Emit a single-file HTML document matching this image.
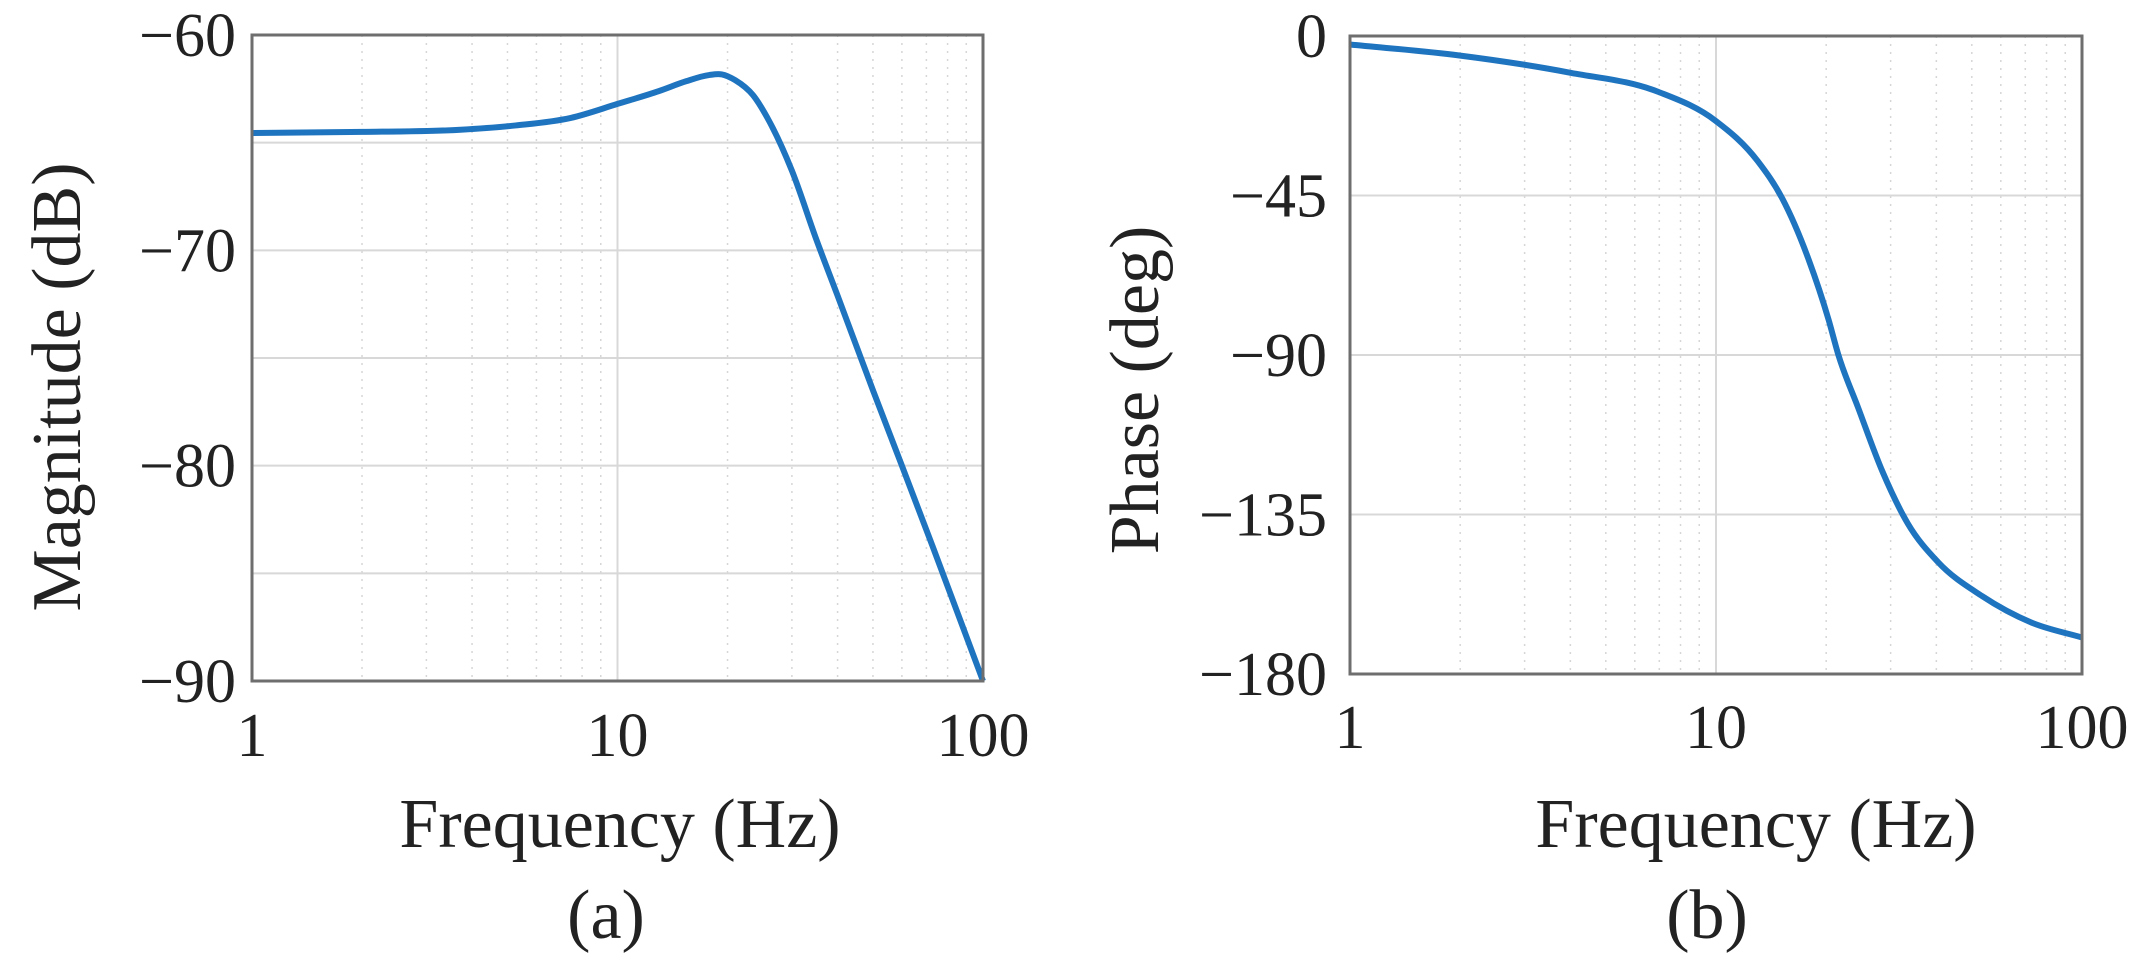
<!DOCTYPE html>
<html><head><meta charset="utf-8"><style>
html,body{margin:0;padding:0;background:#fff;}
svg{display:block;font-family:"Liberation Serif",serif;}
</style></head><body>
<svg id="chart" width="2148" height="958" viewBox="0 0 2148 958"></svg>
<script>
const magFreq=[1,2,3.72,5.27,7.45,10,13,15.4,17.8,19.3,21,23.5,26,30,35,40,50,60,73,100];
const magVals=[-64.55,-64.5,-64.4,-64.2,-63.85,-63.2,-62.6,-62.15,-61.86,-61.83,-62.1,-62.8,-64,-66.3,-69.5,-72.1,-76.5,-80,-83.8,-90];
const phFreq=[1,1.99,3.97,6.97,10,13,15.2,17.9,20.3,21.6,24.4,28.5,33.4,40.4,53.3,72.8,100];
const phVals=[-2.4,-5.5,-10.3,-15.8,-24,-35.3,-46,-63,-80,-90,-104.6,-122.9,-137.5,-148.4,-158,-165.5,-169.7];
const xTicks=[1,10,100];
const magTicks=[-60,-70,-80,-90];
const phTicks=[0,-45,-90,-135,-180];

const NS="http://www.w3.org/2000/svg";
const svg=document.getElementById('chart');
function mk(tag,attrs,parent){const e=document.createElementNS(NS,tag);for(const k in attrs)e.setAttribute(k,attrs[k]);(parent||svg).appendChild(e);return e;}

function smoothPath(P){
  const n=P.length,m=[];
  for(let i=0;i<n;i++){
    if(i===0)m.push((P[1][1]-P[0][1])/(P[1][0]-P[0][0]));
    else if(i===n-1)m.push((P[n-1][1]-P[n-2][1])/(P[n-1][0]-P[n-2][0]));
    else{
      const h0=P[i][0]-P[i-1][0],h1=P[i+1][0]-P[i][0];
      const s0=(P[i][1]-P[i-1][1])/h0,s1=(P[i+1][1]-P[i][1])/h1;
      m.push((s0*h1+s1*h0)/(h0+h1));
    }
  }
  let d='M'+P[0][0].toFixed(2)+','+P[0][1].toFixed(2);
  for(let i=0;i<n-1;i++){
    const h=(P[i+1][0]-P[i][0])/3;
    d+=' C'+(P[i][0]+h).toFixed(2)+','+(P[i][1]+m[i]*h).toFixed(2)+' '+(P[i+1][0]-h).toFixed(2)+','+(P[i+1][1]-m[i+1]*h).toFixed(2)+' '+P[i+1][0].toFixed(2)+','+P[i+1][1].toFixed(2);
  }
  return d;
}

function panel(cfg){
  const g=mk('g',{});
  
  
  const L=cfg.L,R=cfg.R,T=cfg.T,B=cfg.B;
  const xs=f=>L+Math.log10(f)/2*(R-L);
  const ys=v=>T+(cfg.ymax-v)/(cfg.ymax-cfg.ymin)*(B-T);
  for(let d=1;d<100;d*=10)for(let m=2;m<=9;m++){
    const l=mk('line',{x1:xs(d*m),x2:xs(d*m),y1:T,y2:B,stroke:'#d6d6d6','stroke-width':1.5,'stroke-dasharray':'2 6'},g);
    
    
  }
  const gx=mk('line',{x1:xs(10),x2:xs(10),y1:T,y2:B,stroke:'#d8d8d8','stroke-width':2},g);
  
  
  for(const v of cfg.ygrid){
    const l=mk('line',{x1:L,x2:R,y1:ys(v),y2:ys(v),stroke:'#d8d8d8','stroke-width':2},g);
    
    
  }
  const P=cfg.fx.map((f,i)=>[xs(f),ys(cfg.vals[i])]);
  const c=mk('path',{d:smoothPath(P),fill:'none',stroke:'#1f74c0','stroke-width':6,'stroke-linejoin':'round'},g);
  
  
  const fr=mk('rect',{x:L,y:T,width:R-L,height:B-T,fill:'none',stroke:'#6e6e6e','stroke-width':3},g);
  
  
  for(const f of xTicks){
    const t=mk('text',{x:xs(f),y:cfg.xtickY,'text-anchor':'middle','font-size':62,fill:'#222'},g);
    t.textContent=String(f);
    
    
  }
  for(const v of cfg.yticks){
    const t=mk('text',{x:cfg.ylabX,y:ys(v)+21,'text-anchor':'end','font-size':62,fill:'#222'},g);
    t.textContent=v<0?'\u2212'+Math.abs(v):String(v);
    
    
  }
  const xt=mk('text',{x:cfg.xTitleX,y:847,'text-anchor':'middle','font-size':70,fill:'#222'},g);
  xt.textContent='Frequency (Hz)';
  
  
  const yt=mk('text',{x:0,y:0,'text-anchor':'middle','font-size':70,fill:'#222',transform:`translate(${cfg.yTitleX},${cfg.yTitleY}) rotate(-90)`},g);
  yt.textContent=cfg.ytitle;
  
  
  const cap=mk('text',{x:cfg.capX,y:938,'text-anchor':'middle','font-size':70,fill:'#222'},g);
  cap.textContent=cfg.cap;
  
  
}
panel({name:'magnitude-plot',L:252,R:983,T:35,B:681,ymax:-60,ymin:-90,ygrid:[-65,-70,-75,-80,-85],yticks:magTicks,fx:magFreq,vals:magVals,ylabX:236,xtickY:756,xTitleX:620,ytitle:'Magnitude (dB)',yTitleX:80,yTitleY:387,cap:'(a)',capX:606});
panel({name:'phase-plot',L:1350,R:2082,T:36,B:674,ymax:0,ymin:-180,ygrid:[-45,-90,-135],yticks:phTicks,fx:phFreq,vals:phVals,ylabX:1327,xtickY:748,xTitleX:1756,ytitle:'Phase (deg)',yTitleX:1158,yTitleY:390,cap:'(b)',capX:1707});
</script>
</body></html>
